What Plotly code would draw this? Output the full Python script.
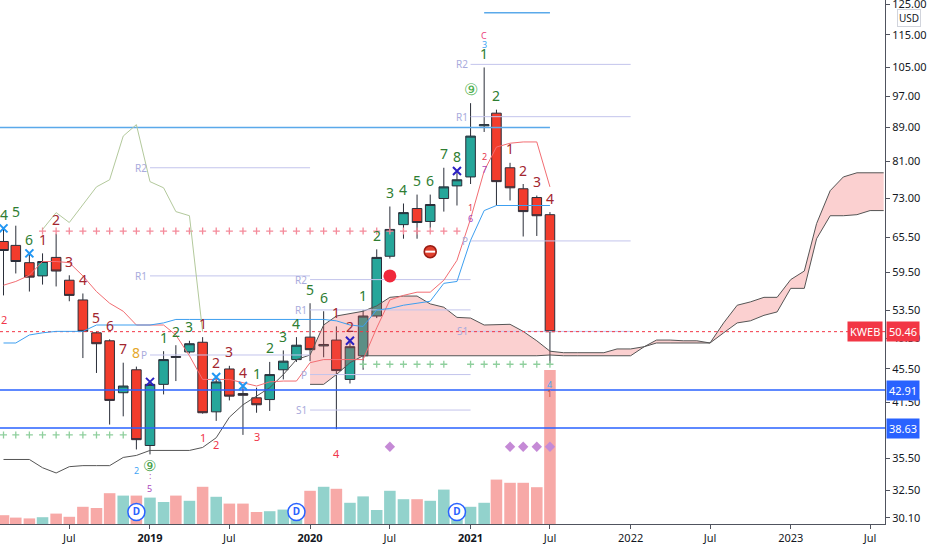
import numpy as np
import pandas as pd
import plotly.graph_objects as go

# KWEB monthly bars, Feb 2018 .. Jul 2021
months = pd.date_range("2018-02-01", periods=42, freq="MS")
opens = [64.8, 64.1, 61.1, 58.9, 62.0, 58.2, 55.1, 50.3, 49.2, 42.6, 45.4, 36.8,
         43.6, 47.1, 47.7, 49.0, 40.4, 45.5, 42.5, 42.0, 41.8, 45.4, 46.7, 49.7,
         48.5, 49.3, 44.2, 47.2, 52.7, 62.2, 67.9, 71.0, 68.5, 73.0, 75.6, 77.5,
         89.3, 92.5, 79.5, 75.0, 73.2, 69.8]
highs = [67.2, 67.7, 62.7, 62.7, 66.2, 59.0, 56.1, 50.5, 49.4, 46.3, 45.8, 43.9,
         47.8, 48.6, 49.2, 49.7, 44.5, 45.9, 43.4, 43.2, 46.4, 47.9, 49.7, 54.6,
         53.4, 51.2, 49.2, 53.6, 63.4, 71.4, 72.0, 73.8, 73.8, 79.5, 78.8, 95.1,
         105.0, 93.4, 80.6, 76.0, 73.6, 70.3]
lows = [55.8, 59.3, 56.4, 57.5, 57.2, 54.9, 46.9, 45.0, 39.0, 39.9, 36.4, 35.9,
        42.4, 44.0, 47.5, 40.2, 39.4, 41.7, 37.9, 40.3, 40.5, 44.2, 46.4, 46.5,
        47.0, 38.5, 43.7, 45.4, 52.4, 61.8, 65.3, 65.3, 67.3, 70.4, 71.6, 76.0,
        87.8, 71.6, 72.6, 65.7, 65.8, 46.2]
closes = [63.2, 61.3, 58.7, 61.3, 59.7, 55.8, 50.5, 48.8, 41.7, 43.4, 37.4, 43.6,
          46.7, 47.0, 48.8, 40.3, 43.9, 42.2, 42.3, 41.2, 44.8, 46.5, 48.6, 48.0,
          48.7, 45.3, 48.4, 52.7, 62.0, 67.0, 70.2, 68.3, 71.8, 75.4, 76.9, 86.8,
          89.6, 76.5, 75.2, 70.4, 69.6, 50.46]
volume_m = [2.2, 1.6, 1.4, 1.7, 2.6, 1.8, 4.3, 4.0, 7.7, 7.1, 7.1, 6.6,
            5.5, 7.1, 5.8, 9.3, 6.8, 5.1, 5.1, 3.0, 3.2, 3.6, 3.8, 8.3,
            9.3, 8.8, 5.3, 6.9, 3.5, 8.3, 6.2, 6.2, 5.8, 8.6, 4.3, 4.3,
            5.3, 11.1, 10.3, 10.3, 9.2, 38.5]

# ichimoku
tenkan = [57.4, 58.0, 59.0, 61.3, 61.3, 61.1, 58.9, 56.4, 54.6, 53.4, 51.4, 51.4,
          51.4, 50.0, 47.2, 44.2, 44.2, 44.2, 43.8, 43.4, 43.9, 44.0, 44.0, 46.3,
          46.7, 46.7, 46.7, 46.7, 51.0, 55.1, 55.8, 56.3, 56.3, 58.2, 61.5, 69.0,
          78.8, 84.2, 85.1, 85.4, 85.4, 75.4]
kijun = [48.9, 48.9, 50.0, 50.3, 50.5, 50.5, 50.5, 51.4, 51.4, 51.4, 51.4, 51.4,
         51.7, 52.2, 52.2, 52.2, 52.2, 52.2, 52.2, 52.2, 52.2, 52.2, 52.2, 52.2,
         52.2, 52.0, 51.4, 51.2, 53.6, 53.8, 54.3, 54.6, 54.9, 57.7, 58.0, 65.0,
         70.6, 71.6, 71.6, 71.6, 71.6, 71.6]
span_a_months = pd.date_range("2018-02-01", "2023-08-01", freq="MS")
span_a = [35.4, 35.4, 35.4, 34.6, 34.1, 34.7, 34.8, 34.8, 34.8, 35.6, 35.8, 36.3,
          36.3, 36.3, 36.3, 36.6, 37.6, 39.8, 41.2, 42.2, 43.2, 44.8, 46.7, 47.3,
          51.4, 52.7, 53.1, 53.4, 54.2, 55.5, 55.7, 55.7, 54.5, 54.0, 52.5, 52.4,
          51.4, 51.4, 51.5, 50.5, 49.2, 47.8, 47.6, 47.6, 47.6, 47.6, 48.1, 48.1,
          48.4, 48.9, 48.9, 48.9, 48.9, 48.9, 50.3, 51.7, 52.0, 52.8, 53.3, 56.9,
          56.9, 65.3, 69.6, 69.6, 69.8, 70.6, 70.6]
span_b_months = pd.date_range("2020-01-01", "2023-08-01", freq="MS")
span_b = [43.6, 43.6, 44.8, 46.3, 47.2, 47.2, 47.2, 47.2, 47.2, 47.2, 47.2, 47.2,
          47.2, 47.2, 47.2, 47.2, 47.2, 47.2, 47.3, 47.2, 47.2, 47.2, 47.2, 47.2,
          47.2, 48.4, 49.3, 49.3, 49.2, 49.2, 48.9, 51.7, 54.3, 54.8, 55.5, 55.5,
          58.3, 59.7, 68.1, 74.6, 77.5, 78.4, 78.4, 78.4]
lag_shift = 26
lag_from = 29

# levels
last_price = 50.46
support_levels = [42.91, 38.63]
fib_levels = [88.9, 122.2]
fib_starts = ["2018-01-24", "2021-02-01"]
fib_ends = ["2021-07-01", "2021-07-01"]
pivot_names = ["R2", "R1", "P", "R2", "R1", "P", "S1", "R2", "R1", "P", "S1"]
pivot_levels = [79.5, 58.9, 47.3, 58.3, 53.6, 44.8, 40.6, 105.9, 91.6, 64.9, 50.5]
pivot_starts = ["2019-01-01"] * 3 + ["2020-01-01"] * 4 + ["2021-01-01"] * 4
pivot_ends = ["2020-01-01"] * 3 + ["2021-01-01"] * 4 + ["2022-01-01"] * 4

# TD sequential counts
td_top = ["4", "5", "6", "1", "2", "3", "4", "5", "6", "7", "8", "",
          "1", "2", "3", "1", "2", "3", "4", "1", "2", "3", "4", "5",
          "6", "1", "2", "1", "2", "3", "4", "5", "6", "7", "8", "⑨",
          "1", "2", "1", "2", "3", "4"]
td_kind = ["g", "g", "g", "r", "r", "r", "r", "r", "r", "r", "o", "",
           "g", "g", "g", "r", "r", "r", "r", "g", "g", "g", "g", "g",
           "g", "r", "r", "g", "g", "g", "g", "g", "g", "g", "g", "c",
           "g", "g", "r", "r", "r", "r"]
td_low_months = ["2018-02-01", "2019-05-01", "2019-06-01", "2019-09-01", "2020-03-01"]
td_low_text = ["2", "1", "2", "3", "4"]
extra_text = ["2", "⑨", ":", "5", "1", "6", "2", "7", "3", "C", "4", "1"]
extra_months = ["2018-12-01", "2019-01-01", "2019-01-01", "2019-01-01", "2021-01-01",
                "2021-01-01", "2021-02-01", "2021-02-01", "2021-02-01", "2021-02-01",
                "2021-07-01", "2021-07-01"]
extra_price = [34.3, 34.9, 33.9, 32.7, 71.3, 69.0, 82.1, 79.2, 111.9, 114.7, 43.6, 42.5]
extra_color = ["#42a5f5", "#43a047", "#ab47bc", "#ab47bc", "#e53950", "#ab47bc",
               "#e53950", "#ab47bc", "#42a5f5", "#ec407a", "#42a5f5", "#c0504d"]

x_light = ["2018-02-01", "2018-04-01", "2019-06-01", "2019-08-01"]
x_dark = ["2019-01-01", "2020-04-01", "2020-12-01"]
plus_red = pd.date_range("2018-05-01", "2020-12-01", freq="MS")
plus_red_level = 66.7
plus_green_1 = pd.date_range("2018-02-01", "2018-11-01", freq="MS")
plus_green_1_level = 37.9
plus_green_2 = list(pd.date_range("2020-05-01", "2020-11-01", freq="MS")) + \
    list(pd.date_range("2021-01-01", "2021-07-01", freq="MS"))
plus_green_2_level = 46.1
diamond_months = ["2020-07-01", "2021-04-01", "2021-05-01", "2021-06-01", "2021-07-01"]
dividend_months = ["2018-12-01", "2019-12-01", "2020-12-01"]

x_range = ["2018-01-24", "2023-08-04"]
y_range = [29.6, 126.6]
price_ticks = [125, 115, 105, 97, 89, 81, 73, 65.5, 59.5, 53.5, 49.5, 45.5, 41.5, 35.5, 32.5, 30.1]
x_ticks = ["2018-07-01", "2019-01-01", "2019-07-01", "2020-01-01", "2020-07-01",
           "2021-01-01", "2021-07-01", "2022-01-01", "2022-07-01", "2023-01-01", "2023-07-01"]
x_labels = ["Jul", "<b>2019</b>", "Jul", "<b>2020</b>", "Jul", "<b>2021</b>", "Jul",
            "2022", "Jul", "2023", "Jul"]

UP, DOWN = "#26a69a", "#ef5350"
FONT = "Noto Sans"
high_of = dict(zip(months, highs))
low_of = dict(zip(months, lows))

fig = go.Figure()

# volume (bottom layer)
vol_colors = ["rgba(38,166,154,0.5)" if c >= o else "rgba(239,83,80,0.5)" for o, c in zip(opens, closes)]
fig.add_trace(go.Bar(x=months, y=volume_m, marker=dict(color=vol_colors, line_width=0), yaxis="y"))
fig.add_trace(go.Scatter(x=diamond_months, y=[19.3] * len(diamond_months), mode="markers",
                         marker=dict(symbol="diamond", size=8, color="#c58ad6"), yaxis="y"))
fig.add_trace(go.Scatter(x=dividend_months, y=[3.0] * 3, mode="markers+text", text=["<b>D</b>"] * 3,
                         textfont=dict(color="#2962ff", size=10, family=FONT),
                         marker=dict(size=17, color="white", line=dict(color="#2962ff", width=1.5)),
                         yaxis="y"))

# cloud
fig.add_trace(go.Scatter(x=span_b_months, y=span_a[-len(span_b):], mode="lines",
                         line=dict(width=0), yaxis="y2"))
fig.add_trace(go.Scatter(x=span_b_months, y=span_b, mode="lines", fill="tonexty",
                         fillcolor="rgba(239,83,80,0.27)", line=dict(color="#555555", width=1), yaxis="y2"))
fig.add_trace(go.Scatter(x=span_a_months, y=span_a, mode="lines",
                         line=dict(color="#555555", width=1), yaxis="y2"))

# pivots
for name, lvl, s, e in zip(pivot_names, pivot_levels, pivot_starts, pivot_ends):
    fig.add_trace(go.Scatter(x=[s, e], y=[lvl, lvl], mode="lines",
                             line=dict(color="#c3c4ec", width=1), yaxis="y2"))
    fig.add_annotation(x=s, y=np.log10(lvl), xref="x", yref="y2", text=name, showarrow=False,
                       xanchor="right", xshift=-1, font=dict(color="#a9abdc", size=10, family=FONT))

# horizontal levels
for lvl, s, e in zip(fib_levels, fib_starts, fib_ends):
    fig.add_trace(go.Scatter(x=[s, e], y=[lvl, lvl], mode="lines",
                             line=dict(color="#5aa9ea", width=1.5), yaxis="y2"))
for lvl in support_levels:
    fig.add_trace(go.Scatter(x=x_range, y=[lvl, lvl], mode="lines",
                             line=dict(color="#2962ff", width=1.5), yaxis="y2"))
fig.add_trace(go.Scatter(x=x_range, y=[last_price, last_price], mode="lines",
                         line=dict(color="#f23645", width=1, dash="dot"), yaxis="y2"))

# TD support/resistance crosses
fig.add_trace(go.Scatter(x=plus_red, y=[plus_red_level] * len(plus_red), mode="markers",
                         marker=dict(symbol="cross-thin", size=5, line=dict(color="#f48a9a", width=1.3)),
                         yaxis="y2"))
for ms, lvl in [(plus_green_1, plus_green_1_level), (plus_green_2, plus_green_2_level)]:
    fig.add_trace(go.Scatter(x=ms, y=[lvl] * len(ms), mode="markers",
                             marker=dict(symbol="cross-thin", size=5, line=dict(color="#8fcf9d", width=1.3)),
                             yaxis="y2"))

# lines
fig.add_trace(go.Scatter(x=months, y=tenkan, mode="lines", line=dict(color="#f26d72", width=1), yaxis="y2"))
fig.add_trace(go.Scatter(x=months, y=kijun, mode="lines", line=dict(color="#3d9ff0", width=1), yaxis="y2"))
fig.add_trace(go.Scatter(x=months[lag_from - lag_shift:len(months) - lag_shift], y=closes[lag_from:],
                         mode="lines", line=dict(color="#b3c99c", width=1), yaxis="y2"))

# candles
fig.add_trace(go.Candlestick(x=months, open=opens, high=highs, low=lows, close=closes,
                             increasing=dict(fillcolor=UP, line=dict(color="#2a2e39", width=1)),
                             decreasing=dict(fillcolor="#f23c2c", line=dict(color="#2a2e39", width=1)),
                             whiskerwidth=0, yaxis="y2"))

# markers
fig.add_trace(go.Scatter(x=x_light, y=[high_of[pd.Timestamp(m)] for m in x_light], mode="markers",
                         marker=dict(symbol="x-thin", size=8, line=dict(color="#2196f3", width=2)), yaxis="y2"))
fig.add_trace(go.Scatter(x=x_dark, y=[high_of[pd.Timestamp(m)] for m in x_dark], mode="markers",
                         marker=dict(symbol="x-thin", size=8, line=dict(color="#2a1fc2", width=2)), yaxis="y2"))
fig.add_trace(go.Scatter(x=["2020-07-01"], y=[58.9], mode="markers",
                         marker=dict(size=13, color="#f0283c"), yaxis="y2"))
fig.add_trace(go.Scatter(x=["2020-10-01"], y=[63.0], mode="markers",
                         marker=dict(size=12, color="#e0402e", line=dict(color="#9a1b12", width=1.5)), yaxis="y2"))
fig.add_trace(go.Scatter(x=["2020-10-01"], y=[63.0], mode="markers",
                         marker=dict(symbol="line-ew", size=7, line=dict(color="white", width=2)), yaxis="y2"))

# TD count labels
td_colors = {"g": "#2e7d32", "r": "#a3262f", "o": "#e5a72a", "c": "#4caf50"}
for m, t, k in zip(months, td_top, td_kind):
    if not t:
        continue
    fig.add_annotation(x=m, y=np.log10(high_of[m]), xref="x", yref="y2", text=t, showarrow=False,
                       yshift=14, font=dict(color=td_colors[k], size=16 if k == "c" else 14, family=FONT))
for m, t in zip(td_low_months, td_low_text):
    fig.add_annotation(x=m, y=np.log10(low_of[pd.Timestamp(m)]), xref="x", yref="y2", text=t,
                       showarrow=False, yshift=-24, font=dict(color="#f0364a", size=11, family=FONT))
for t, m, p, c in zip(extra_text, extra_months, extra_price, extra_color):
    fig.add_annotation(x=m, y=np.log10(p), xref="x", yref="y2", text=t, showarrow=False,
                       font=dict(color=c, size=15 if t == "⑨" else 9, family=FONT))

# axis badges
fig.add_annotation(x=1, y=np.log10(last_price), xref="paper", yref="y2", text="KWEB", showarrow=False,
                   xanchor="right", xshift=-2, bgcolor="#f23645", borderpad=2,
                   font=dict(color="white", size=11, family=FONT))
fig.add_annotation(x=1, y=np.log10(last_price), xref="paper", yref="y2", text=f"{last_price:.2f}",
                   showarrow=False, xanchor="left", xshift=1, bgcolor="#f23645", borderpad=2,
                   font=dict(color="white", size=11, family=FONT))
for lvl in support_levels:
    fig.add_annotation(x=1, y=np.log10(lvl), xref="paper", yref="y2", text=f"{lvl:.2f}",
                       showarrow=False, xanchor="left", xshift=1, bgcolor="#2962ff", borderpad=2,
                       font=dict(color="white", size=11, family=FONT))
fig.add_annotation(x=1, y=1, xref="paper", yref="paper", text="USD", showarrow=False,
                   xanchor="left", yanchor="top", xshift=12, yshift=-9, bgcolor="white",
                   bordercolor="#d1d4dc", borderwidth=1, borderpad=1,
                   font=dict(color="#131722", size=10, family=FONT))

fig.update_layout(
    width=932, height=550,
    margin=dict(l=0, r=47, t=0, b=26, autoexpand=False),
    paper_bgcolor="white", plot_bgcolor="white",
    showlegend=False, bargap=0.06, boxgap=0.22, boxgroupgap=0,
    font=dict(family=FONT, color="#131722", size=11),
    xaxis=dict(type="date", range=x_range, tickvals=x_ticks, ticktext=x_labels,
               showgrid=False, zeroline=False, showline=True, linecolor="#50535e", linewidth=1,
               ticks="outside", ticklen=4, tickcolor="#50535e", tickfont=dict(size=11),
               rangeslider=dict(visible=False), automargin=False),
    yaxis=dict(domain=[0, 1], range=[0, 131], visible=False, fixedrange=True),
    yaxis2=dict(overlaying="y", side="right", anchor="x", type="log",
                range=[np.log10(y_range[0]), np.log10(y_range[1])],
                tickvals=price_ticks, ticktext=[f"{v:.2f}" for v in price_ticks],
                ticklabeloverflow="allow", automargin=False,
                showgrid=False, zeroline=False, showline=True, linecolor="#50535e", linewidth=1,
                ticks="outside", ticklen=4, tickcolor="#50535e", tickfont=dict(size=11)),
)

fig.write_html("out.html", config={"displayModeBar": False},
               post_script="document.body.style.margin = '0';")
